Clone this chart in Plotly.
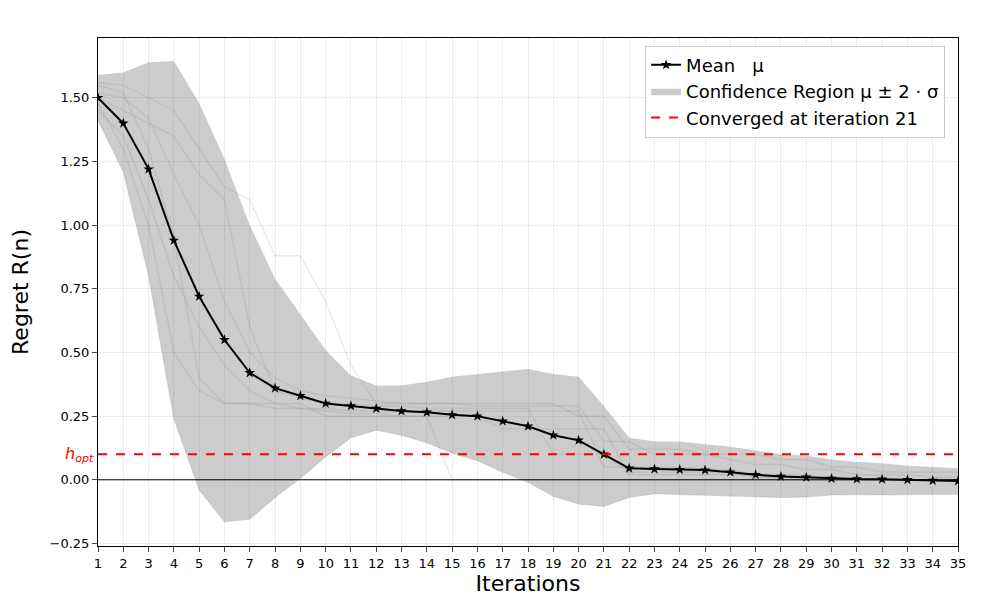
import plotly.graph_objects as go

iterations = list(range(1, 36))
mean = [1.50, 1.40, 1.22, 0.94, 0.72, 0.55, 0.42, 0.36, 0.33, 0.30, 0.29, 0.28, 0.27, 0.265,
        0.255, 0.25, 0.23, 0.21, 0.175, 0.155, 0.10, 0.045, 0.042, 0.04, 0.038, 0.03, 0.02,
        0.013, 0.01, 0.005, 0.003, 0.002, 0.0, -0.003, -0.005]
upper = [1.59, 1.60, 1.64, 1.645, 1.48, 1.26, 1.00, 0.79, 0.65, 0.51, 0.41, 0.37, 0.37, 0.385,
         0.405, 0.415, 0.425, 0.435, 0.415, 0.405, 0.29, 0.165, 0.15, 0.15, 0.14, 0.13, 0.115,
         0.10, 0.095, 0.08, 0.07, 0.065, 0.055, 0.05, 0.045]
lower = [1.41, 1.21, 0.80, 0.24, -0.04, -0.165, -0.155, -0.07, 0.005, 0.09, 0.165, 0.195, 0.175,
         0.145, 0.105, 0.075, 0.03, -0.01, -0.065, -0.095, -0.105, -0.07, -0.055, -0.058, -0.06,
         -0.063, -0.067, -0.07, -0.068, -0.06, -0.058, -0.06, -0.058, -0.057, -0.057]

# a few individual runs
runs = [
    [1.55, 1.52, 1.30, 0.95, 0.40, 0.30, 0.30, 0.28, 0.28, 0.28, 0.27, 0.27, 0.27, 0.27, 0.27, 0.27,
     0.27, 0.27, 0.27, 0.27, 0.05, 0.05, 0.05, 0.05, 0.04, 0.04, 0.02, 0.02, 0.02, 0.0, 0.0, 0.0, 0.0, 0.0, 0.0],
    [1.50, 1.45, 1.40, 1.35, 1.20, 1.10, 0.60, 0.35, 0.32, 0.30, 0.30, 0.29, 0.29, 0.28, 0.28, 0.28,
     0.28, 0.28, 0.10, 0.10, 0.10, 0.03, 0.03, 0.03, 0.03, 0.03, 0.01, 0.01, 0.01, 0.01, 0.0, 0.0, 0.0, 0.0, 0.0],
    [1.48, 1.30, 1.00, 0.50, 0.35, 0.30, 0.30, 0.30, 0.30, 0.25, 0.25, 0.25, 0.25, 0.25, 0.25, 0.25,
     0.20, 0.20, 0.20, 0.20, 0.20, 0.02, 0.02, 0.02, 0.02, 0.02, 0.02, 0.0, 0.0, 0.0, 0.0, 0.0, 0.0, 0.0, 0.0],
    [1.56, 1.55, 1.50, 1.45, 1.30, 1.15, 1.10, 0.88, 0.88, 0.70, 0.45, 0.30, 0.30, 0.30, 0.30, 0.30,
     0.30, 0.30, 0.30, 0.25, 0.25, 0.12, 0.12, 0.12, 0.10, 0.10, 0.10, 0.08, 0.08, 0.05, 0.05, 0.03, 0.03, 0.03, 0.03],
    [1.45, 1.35, 1.10, 0.80, 0.60, 0.45, 0.35, 0.30, 0.28, 0.27, 0.26, 0.26, 0.25, 0.25, 0.0, 0.0,
     0.0, 0.0, 0.0, 0.0, 0.0, 0.0, 0.0, 0.0, 0.0, 0.0, 0.0, 0.0, 0.0, 0.0, 0.0, 0.0, 0.0, 0.0, 0.0],
    [1.52, 1.50, 1.42, 1.20, 1.00, 0.70, 0.50, 0.40, 0.35, 0.33, 0.32, 0.31, 0.30, 0.30, 0.30, 0.29,
     0.29, 0.29, 0.29, 0.29, 0.15, 0.15, 0.10, 0.10, 0.10, 0.08, 0.06, 0.06, 0.04, 0.04, 0.02, 0.02, 0.02, 0.01, 0.01],
]
h_opt = 0.1
converged_at = 21

fig = go.Figure()
for r in runs:
    fig.add_trace(go.Scatter(x=iterations, y=r, mode='lines', line=dict(color='rgba(120,120,120,0.15)', width=1.5),
                             showlegend=False, hoverinfo='skip'))
# Mean first so the legend lists it first
fig.add_trace(go.Scatter(x=iterations, y=upper, mode='lines', line=dict(width=0, color='rgba(0,0,0,0)'),
                         showlegend=False, hoverinfo='skip'))
fig.add_trace(go.Scatter(x=iterations, y=lower, mode='lines', fill='tonexty', fillcolor='rgba(110,110,110,0.35)',
                         line=dict(width=0.5, color='rgba(110,110,110,0.4)'),
                         name='Confidence Region μ ± 2 · σ', legendrank=2))
fig.add_trace(go.Scatter(x=iterations, y=mean, mode='lines+markers', name='Mean   μ',
                         line=dict(color='black', width=2), legendrank=1,
                         marker=dict(symbol='star', size=8, color='black')))
fig.add_trace(go.Scatter(x=[1, 35], y=[h_opt, h_opt], mode='lines', legendrank=3,
                         line=dict(color='red', width=2, dash='dash'),
                         name=f'Converged at iteration {converged_at}'))
fig.add_hline(y=0, line=dict(color='black', width=1))
fig.add_annotation(x=0, xref='paper', xanchor='right', xshift=-2, y=h_opt, yanchor='middle',
                   text='<i>h<sub>opt</sub></i>', showarrow=False, font=dict(color='red', size=16))

fig.update_layout(
    width=1000, height=600,
    paper_bgcolor='white', plot_bgcolor='white',
    margin=dict(l=90, r=50, t=30, b=62, autoexpand=False),
    font=dict(family='DejaVu Sans', color='black'),
    legend=dict(x=0.985, y=0.985, xanchor='right', yanchor='top', font=dict(size=18), traceorder='normal',
                bordercolor='#cccccc', borderwidth=1, bgcolor='rgba(255,255,255,0.9)'),
    xaxis=dict(title=dict(text='Iterations', font=dict(size=22), standoff=6), range=[1, 35], tickmode='linear',
               dtick=1, showgrid=True, gridcolor='rgba(0,0,0,0.07)', showline=True, linecolor='black',
               mirror=True, ticks='outside', zeroline=False, tickfont=dict(size=13), automargin=False),
    yaxis=dict(title=dict(text='Regret R(n)', font=dict(size=22)), range=[-0.26, 1.735], dtick=0.25,
               tickformat='.2f', showgrid=True, gridcolor='rgba(0,0,0,0.07)', showline=True, linecolor='black',
               mirror=True, ticks='outside', zeroline=False, tickfont=dict(size=13), automargin=False),
)

fig.write_html("out.html")
